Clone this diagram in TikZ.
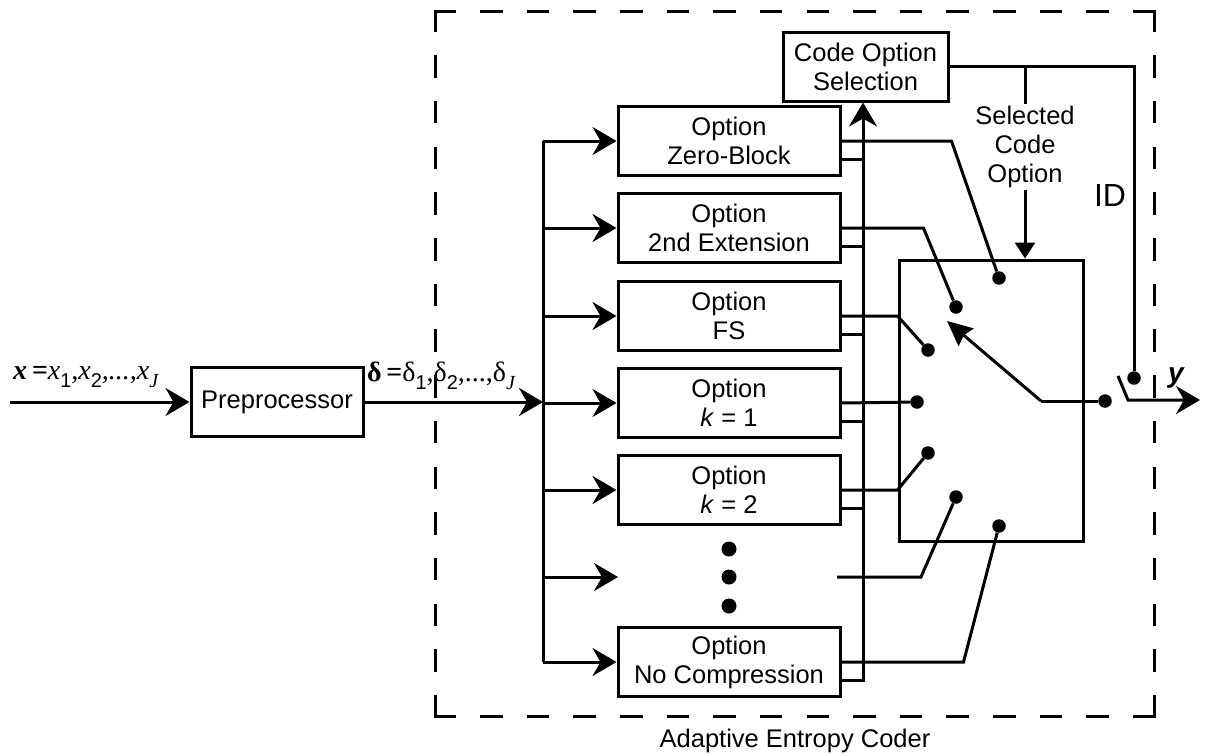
\documentclass[tikz,border=0pt]{standalone}
\usepackage{fontspec}
\setmainfont{Liberation Sans}
\newfontfamily\tms{Liberation Serif}
\usetikzlibrary{arrows.meta,calc}
\newcommand{\sbs}[1]{\raisebox{-0.3em}{\normalfont\fontsize{20}{20}\selectfont #1}}
\begin{document}
\begin{tikzpicture}[x=1pt,y=-1pt,
  every node/.style={font=\fontsize{25.5}{29}\selectfont},
  ln/.style={line width=3pt},
  box/.style={draw,line width=3pt,align=center,inner sep=0pt},
  optbox/.style={box,minimum width=222pt,minimum height=69pt},
  arr/.style={ln,-{Stealth[length=24pt,width=28pt,inset=8pt]}},
  tri/.style={ln,-{Triangle[length=16pt,width=20pt]}},
  swarr/.style={ln,-{Stealth[length=25pt,width=23pt,inset=3pt]}},
  dot/.style={circle,fill,inner sep=0pt,minimum size=13.5pt},
  dashh/.style={line width=3pt,line cap=rect,dash pattern=on 19.5pt off 27.13pt},
  dashv/.style={line width=3pt,line cap=rect,dash pattern=on 19.5pt off 26.2pt}]
\useasboundingbox (0,0) rectangle (1207,755);

% dashed enclosure
\coordinate (dtl) at (435,11);
\coordinate (dtr) at (1154,11);
\coordinate (dbl) at (435,716);
\coordinate (dbr) at (1154,716);
\draw[dashh] (dtl) -- (dtr);
\draw[dashh] (dbl) -- (dbr);
\draw[dashv] (dtl) -- (dbl);
\draw[dashv] (dtr) -- (dbr);
\node (aec) at (795,741) {Adaptive Entropy Coder};

% boxes
\node[box,minimum width=172pt,minimum height=69pt] (pre) at (277,402) {Preprocessor};
\node[box,minimum width=165pt,minimum height=69pt] (cos) at (865.5,66.5) {Code Option\\Selection};
\node[optbox] (o1) at (729,141) {Option\\Zero-Block};
\node[optbox] (o2) at (729,228) {Option\\2nd Extension};
\node[optbox] (o3) at (729,316) {Option\\FS};
\node[optbox] (o4) at (729,403) {Option\\\textit{k} = 1};
\node[optbox] (o5) at (729,490) {Option\\\textit{k} = 2};
\node[optbox] (o6) at (729,662) {Option\\No Compression};
\node[box,minimum width=184pt,minimum height=281pt] (sw) at (991,400.5) {};

% ellipsis dots
\node[dot,minimum size=15pt] (e1) at (729,549) {};
\node[dot,minimum size=15pt] (e2) at (729,577) {};
\node[dot,minimum size=15pt] (e3) at (729,606) {};

% contacts
\node[dot] (c1) at (999,278) {};
\node[dot] (c2) at (956,307) {};
\node[dot] (c3) at (928,350) {};
\node[dot] (c4) at (917,402) {};
\node[dot] (c5) at (928,453) {};
\node[dot] (c6) at (956,497) {};
\node[dot] (c7) at (999,526) {};
\node[dot] (od) at (1105,401) {};
\node[dot] (idd) at (1134,378) {};

\coordinate (in) at (10,402);
\coordinate (split) at (543,402);
\coordinate (dotsin) at (618,577);
\coordinate (dotsout) at (837,577);
\coordinate (busbot) at (863,680);
\coordinate (pivot) at (1041,401);
\coordinate (swtip) at (947,321);
\coordinate (lev1) at (1118,376);
\coordinate (lev2) at (1128,400);
\coordinate (out) at (1200,400);

% labels
\node[anchor=base west,inner sep=0pt,font=\fontsize{28}{28}\selectfont] (xl) at (13,379)
  {\tms\bfseries\itshape x\,=\mdseries x\sbs{1},x\sbs{2},...,x\sbs{\tms\itshape J}};
\node[anchor=base west,inner sep=0pt,font=\fontsize{28}{28}\selectfont] (dl) at (367,381)
  {\tms\bfseries δ\,=\mdseries δ\sbs{1},δ\sbs{2},...,δ\sbs{\tms\itshape J}};
\node (sel) [inner sep=2pt,align=center] at (1025,147) {Selected\\Code\\Option};
\node (idl) [font=\fontsize{32}{32}\selectfont] at (1110,195) {ID};
\node (yl) [font=\fontsize{28}{28}\selectfont] at (1176,378) {\bfseries\itshape y};

% input and split
\draw[arr] (in) -- (pre.west);
\draw[arr] (pre.east) -- (split);
\draw[ln] (split |- o1) -- (split |- o6);
\foreach \n in {o1,o2,o3,o4,o5,o6}{
  \draw[arr] (split |- \n) -- (\n.west);
  \draw[ln] ($(\n.east)+(0,18)$) -- ++(23,0);
}
\draw[arr] (split |- dotsin) -- (dotsin);

% bus to code option selection
\draw[arr] (busbot) -- (busbot |- cos.south);

% outputs to switch contacts
\draw[ln] (o1.east) -- ++(110,0) -- (c1);
\draw[ln] (o2.east) -- ++(82,0) -- (c2);
\draw[ln] (o3.east) -- (sw.west |- o3.east) -- (c3);
\draw[ln] (o4.east) -- (c4);
\draw[ln] (o5.east) -- (sw.west |- o5.east) -- (c5);
\draw[ln] (dotsout) -- ++(84,0) -- (c6);
\draw[ln] (o6.east) -- ++(122,0) -- (c7);

% switch lever
\draw[swarr] (pivot) -- (swtip);
\draw[ln] (pivot) -- (od);

% output
\draw[arr] (lev1) -- (lev2) -- (out);

% ID and selected code option
\draw[ln] (cos.east) -| (idd);
\draw[ln] (sel.north |- cos.east) -- (sel.north);
\draw[tri] (sel.south) -- (sel.south |- sw.north);
\end{tikzpicture}
\end{document}
